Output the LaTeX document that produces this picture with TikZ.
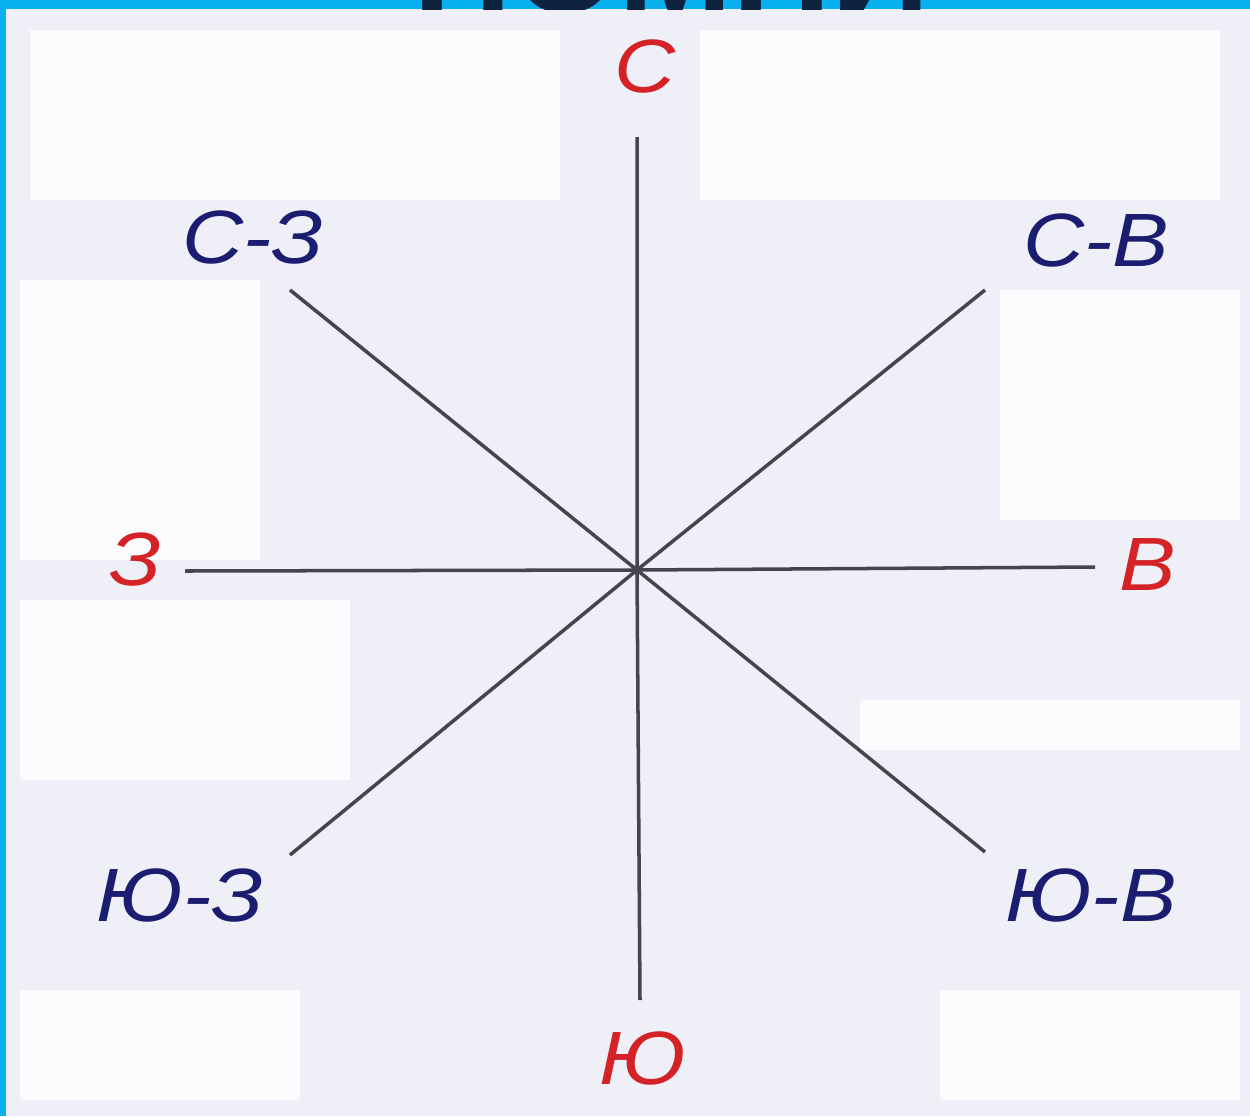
\documentclass[tikz,border=0pt]{standalone}
\usepackage{fontspec}
\setmainfont{Liberation Sans}
\definecolor{bgc}{HTML}{EFEFF7}
\definecolor{patch}{HTML}{FBFBFE}
\definecolor{frameblue}{HTML}{08B1EE}
\definecolor{titlenavy}{HTML}{0F2340}
\definecolor{redlab}{HTML}{D42226}
\definecolor{navylab}{HTML}{1C1C70}
\definecolor{linec}{HTML}{45454D}
\begin{document}
\begin{tikzpicture}[x=0.02cm,y=-0.02cm,
  ray/.style={draw=linec,line width=2pt},
  lab/.style={font=\itshape\fontsize{43}{43}\selectfont,inner sep=0pt,xscale=1.12},
  main/.style={lab,text=redlab},
  inter/.style={lab,text=navylab}]
\useasboundingbox (0,0) rectangle (1250,1116);
\fill[bgc] (0,0) rectangle (1250,1116);
\fill[patch] (30,30) rectangle (560,200);
\fill[patch] (700,30) rectangle (1220,200);
\fill[patch] (20,280) rectangle (260,560);
\fill[patch] (20,600) rectangle (350,780);
\fill[patch] (1000,290) rectangle (1240,520);
\fill[patch] (860,700) rectangle (1240,750);
\fill[patch] (20,990) rectangle (300,1100);
\fill[patch] (940,990) rectangle (1240,1100);
% frame
\fill[frameblue] (0,0) rectangle (1250,9);
\fill[frameblue] (0,0) rectangle (6,1116);
\begin{scope}
\clip (0,0) rectangle (1250,9);
\node[anchor=base,font=\bfseries\fontsize{78}{78}\selectfont,text=titlenavy,inner sep=0pt] (title) at (672,12) {ПОМНИ};
\end{scope}
% centre and ends
\coordinate (O) at (637,570);
\coordinate (nE) at (637,137);
\coordinate (sE) at (640,1000);
\coordinate (wE) at (185,571);
\coordinate (eE) at (1095,567);
\coordinate (nwE) at (290,290);
\coordinate (seE) at (985,852);
\coordinate (neE) at (985,290);
\coordinate (swE) at (290,855);
\draw[ray] (nE) -- (O) -- (sE);
\draw[ray] (wE) -- (O) -- (eE);
\draw[ray] (nwE) -- (O) -- (seE);
\draw[ray] (neE) -- (O) -- (swE);
\fill[linec] (O) circle (5);
% labels
\node[main] (N) at (645,66) {С};
\node[main] (S) at (643,1058) {Ю};
\node[main] (W) at (135,560) {З};
\node[main] (E) at (1148,565) {В};
\node[inter] (NW) at (253,237) {С-З};
\node[inter] (NE) at (1096,240) {С-В};
\node[inter] (SW) at (180,895) {Ю-З};
\node[inter] (SE) at (1091,895) {Ю-В};
\end{tikzpicture}
\end{document}
